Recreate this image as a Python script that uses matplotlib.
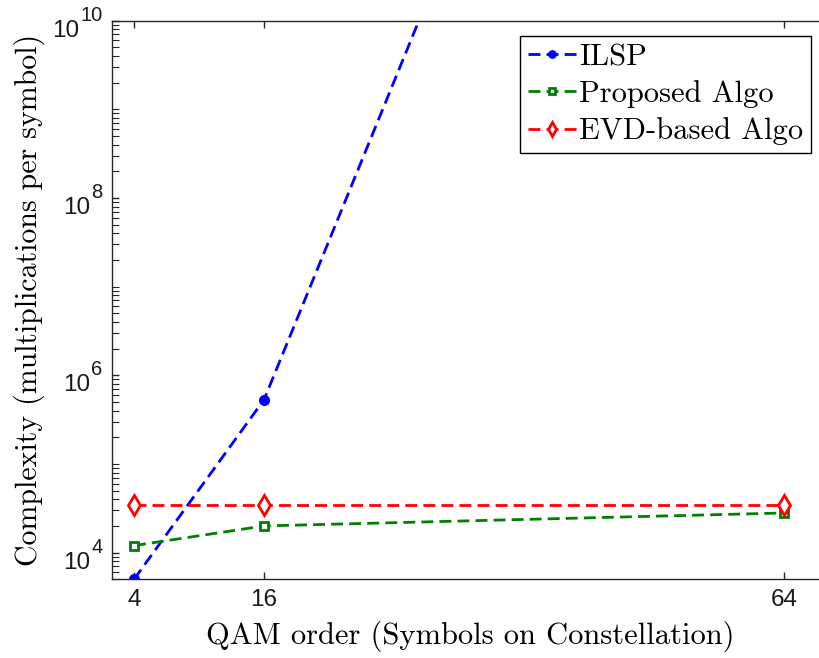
import matplotlib
matplotlib.use("Agg")
import matplotlib.pyplot as plt
from matplotlib.ticker import LogLocator, FixedLocator, NullFormatter
from matplotlib.transforms import offset_copy

# QAM constellation sizes
qam_order = [4, 16, 64]

# Multiplications per symbol for each detector
ilsp = [5.0e3, 5.3e5, 1.2e20]
proposed = [1.2e4, 2.0e4, 2.8e4]
evd_based = [3.4e4, 3.4e4, 3.4e4]

x_ticks = [4, 16, 64]
x_tick_labels = ["4", "16", "64"]
y_major = [1e4, 1e6, 1e8, 1e10]
y_exponents = ["4", "6", "8", "10"]

plt.rcParams["font.family"] = ["Liberation Sans", "DejaVu Sans"]

fig = plt.figure(figsize=(8.2, 6.58), dpi=100)
ax = fig.add_axes([0.137, 0.1196, 0.872, 0.849])

dash = (4.3, 2.2)
lw = 2.0
ax.plot(qam_order, ilsp, color="#0000ff", lw=lw, dashes=dash,
        marker="o", ms=7, mfc="#0000ff", mec="#0000ff", label="ILSP")
ax.plot(qam_order, proposed, color="#008000", lw=lw, dashes=dash,
        marker="s", ms=5.2, mfc="white", mec="#008000", mew=2.0,
        label="Proposed Algo")
ax.plot(qam_order, evd_based, color="#ff0000", lw=lw, dashes=dash,
        marker="d", ms=10, mfc="white", mec="#ff0000", mew=2.0,
        label="EVD-based Algo")

ax.set_yscale("log")
ax.set_xlim(2, 68)
ax.set_ylim(5e3, 1e10)

ax.xaxis.set_major_locator(FixedLocator(x_ticks))
ax.set_xticklabels(x_tick_labels)
ax.yaxis.set_major_locator(FixedLocator(y_major))
ax.yaxis.set_major_formatter(NullFormatter())
ax.yaxis.set_minor_locator(LogLocator(base=10, subs=[1, 2, 3, 4, 5, 6, 7, 8, 9], numticks=40))
ax.yaxis.set_minor_formatter(NullFormatter())

spine_col = "#262626"
for s in ax.spines.values():
    s.set_color(spine_col)
    s.set_linewidth(1.0)

ax.tick_params(axis="both", which="both", direction="in", colors=spine_col,
               labelcolor="#1a1a1a", labelsize=17.5, top=True, right=True)
ax.tick_params(axis="both", which="major", length=5, width=1.0)
ax.tick_params(axis="y", which="minor", length=5, width=0.8)
ax.tick_params(axis="x", which="major", pad=7)

# Power-of-ten labels on the y axis: base "10" with a raised exponent
renderer = fig.canvas.get_renderer()
ytrans = ax.get_yaxis_transform()
base_size = 17.5
exp_size = 14.5
right_px = -10.0
for val, ex in zip(y_major, y_exponents):
    et = ax.text(0, val, ex, fontsize=exp_size, color="#1a1a1a",
                 ha="right", va="center",
                 transform=offset_copy(ytrans, fig=fig, x=right_px, y=5.5, units="dots"))
    w = et.get_window_extent(renderer=renderer).width
    ax.text(0, val, "10", fontsize=base_size, color="#1a1a1a",
            ha="right", va="center",
            transform=offset_copy(ytrans, fig=fig, x=right_px - w - 0.5, y=-10, units="dots"))

ax.set_xlabel("QAM order (Symbols on Constellation)", fontname="cmr10",
              fontsize=22, labelpad=7)
ax.set_ylabel("Complexity (multiplications per symbol)", fontname="cmr10",
              fontsize=21.5, labelpad=45)

leg = ax.legend(loc="upper right", bbox_to_anchor=(0.977, 0.9726),
                prop={"family": "cmr10", "size": 22}, frameon=True,
                fancybox=False, edgecolor="black", framealpha=1,
                handlelength=1.6, handletextpad=0.08, borderpad=0.25,
                labelspacing=0.3, borderaxespad=0.0, markerscale=0.75)
leg.get_frame().set_linewidth(1.0)

fig.savefig("out.png", dpi=100)
